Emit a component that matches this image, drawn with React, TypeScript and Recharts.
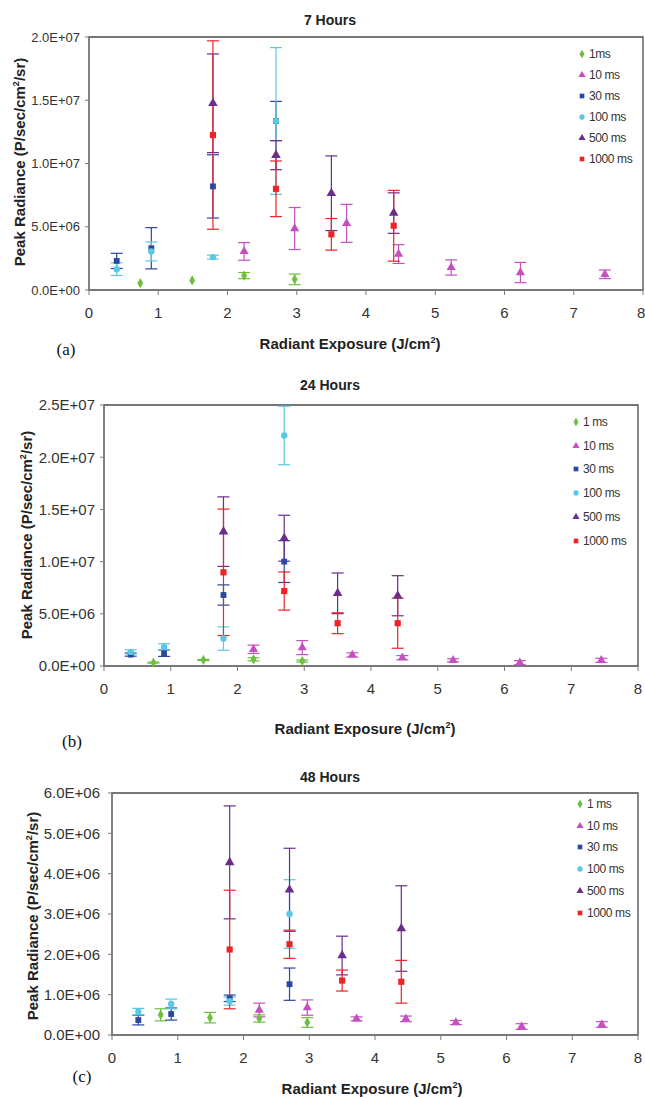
import React from 'react';
import { ScatterChart, Scatter, XAxis, YAxis, ErrorBar, ReferenceArea, Symbols } from 'recharts';

// exposure positions (J/cm²)
const exposure1ms = [0.74, 1.49, 2.24, 2.97];
const exposure10ms = [2.24, 2.97, 3.72, 4.47, 5.23, 6.23, 7.45];
const exposureShort = [0.4, 0.9, 1.79, 2.7]; // 30 ms, 100 ms
const exposureLong = [1.79, 2.7, 3.5, 4.4]; // 500 ms, 1000 ms

const xTicks = [0, 1, 2, 3, 4, 5, 6, 7, 8];

// 7 hours (values x1e6)
const h7_1ms = [0.54, 0.76, 1.14, 0.84];
const h7_1msErr = [0, 0, 0.24, 0.42];
const h7_10ms = [3.05, 4.86, 5.27, 2.84, 1.78, 1.38, 1.24];
const h7_10msErr = [0.7, 1.66, 1.5, 0.74, 0.6, 0.8, 0.34];
const h7_30ms = [2.3, 3.3, 8.19, 13.36];
const h7_30msErr = [0.6, 1.63, 2.5, 1.55];
const h7_100ms = [1.65, 3.05, 2.6, 13.36];
const h7_100msErr = [0.5, 0.75, 0.15, 5.8];
const h7_500ms = [14.76, 10.66, 7.65, 6.08];
const h7_500msErr = [3.9, 1.15, 2.95, 1.6];
const h7_1000ms = [12.25, 8.0, 4.4, 5.08];
const h7_1000msErr = [7.45, 2.2, 1.25, 2.8];

// 24 hours
const h24_1ms = [0.32, 0.58, 0.64, 0.48];
const h24_1msErr = [0.05, 0.05, 0.15, 0.1];
const h24_10ms = [1.6, 1.76, 1.06, 0.8, 0.54, 0.32, 0.54];
const h24_10msErr = [0.4, 0.67, 0.2, 0.2, 0.15, 0.2, 0.2];
const h24_30ms = [1.09, 1.22, 6.8, 10.0];
const h24_30msErr = [0.15, 0.3, 0.97, 2.0];
const h24_100ms = [1.35, 1.83, 2.63, 22.08];
const h24_100msErr = [0.2, 0.3, 1.12, 2.8];
const h24_500ms = [12.87, 12.24, 6.96, 6.73];
const h24_500msErr = [3.33, 2.2, 1.95, 1.92];
const h24_1000ms = [8.97, 7.18, 4.1, 4.1];
const h24_1000msErr = [6.06, 1.83, 1.0, 2.4];

// 48 hours
const h48_1ms = [0.5, 0.43, 0.41, 0.31];
const h48_1msErr = [0.15, 0.13, 0.09, 0.12];
const h48_10ms = [0.62, 0.68, 0.4, 0.4, 0.31, 0.21, 0.26];
const h48_10msErr = [0.17, 0.19, 0.05, 0.07, 0.05, 0.07, 0.07];
const h48_30ms = [0.37, 0.52, 0.91, 1.26];
const h48_30msErr = [0.12, 0.15, 0.08, 0.4];
const h48_100ms = [0.58, 0.77, 0.84, 3.0];
const h48_100msErr = [0.08, 0.12, 0.1, 0.85];
const h48_500ms = [4.28, 3.6, 1.97, 2.64];
const h48_500msErr = [1.4, 1.03, 0.48, 1.06];
const h48_1000ms = [2.12, 2.25, 1.35, 1.32];
const h48_1000msErr = [1.47, 0.35, 0.26, 0.53];

const seriesStyle = [
  { color: '#6cbf3f', shape: 'diamond', size: 30 },
  { color: '#c64fc0', shape: 'triangle', size: 36 },
  { color: '#2b479f', shape: 'square', size: 34 },
  { color: '#5bc7e6', shape: 'circle', size: 32 },
  { color: '#6b2d8c', shape: 'triangle', size: 40 },
  { color: '#ee2326', shape: 'square', size: 38 },
] as const;

const build = (xs: number[], ys: number[], es: number[]) =>
  xs.map((x, i) => ({ x, y: ys[i] * 1e6, err: es[i] * 1e6 }));

const sci = (v: number) => {
  if (v === 0) return '0.0E+00';
  const [m, e] = v.toExponential(1).split('e');
  const n = parseInt(e, 10);
  return `${m}E${n < 0 ? '-' : '+'}${String(Math.abs(n)).padStart(2, '0')}`;
};

const FONT = "'Liberation Sans', Arial, sans-serif";

type PanelProps = {
  top: number;
  height: number;
  margin: { top: number; right: number; left: number; bottom: number };
  yWidth: number;
  yMax: number;
  yTicks: number[];
  yTickMargin: number;
  yTickFont: number;
  series: { x: number; y: number; err: number }[][];
};

const marker = (i: number) => (props: any) => (
  <Symbols
    cx={props.cx}
    cy={props.cy}
    type={seriesStyle[i].shape}
    size={seriesStyle[i].size}
    fill={seriesStyle[i].color}
  />
);

function Panel({ top, height, margin, yWidth, yMax, yTicks, yTickMargin, yTickFont, series }: PanelProps) {
  return (
    <div style={{ position: 'absolute', left: 0, top }}>
      <ScatterChart width={645} height={height} margin={margin}>
        <XAxis
          type="number"
          dataKey="x"
          domain={[0, 8]}
          ticks={xTicks}
          height={30}
          tickSize={5}
          tickMargin={12}
          stroke="#7a7a7a"
          tick={{ fill: '#333', fontSize: 15, fontFamily: FONT }}
        />
        <YAxis
          type="number"
          dataKey="y"
          domain={[0, yMax]}
          ticks={yTicks}
          width={yWidth}
          tickSize={4}
          tickMargin={yTickMargin}
          tickFormatter={sci}
          stroke="#7a7a7a"
          tick={{ fill: '#333', fontSize: yTickFont, fontFamily: FONT }}
        />
        <ReferenceArea x1={0} x2={8} y1={0} y2={yMax} fill="none" stroke="#4a4a4a" strokeWidth={1.3} />
        {series.map((d, i) => (
          <Scatter
            key={i}
            data={d}
            fill={seriesStyle[i].color}
            shape={marker(i)}
            isAnimationActive={false}
          >
            <ErrorBar dataKey="err" direction="y" width={6} stroke={seriesStyle[i].color} strokeWidth={1.2} />
          </Scatter>
        ))}
      </ScatterChart>
    </div>
  );
}

function Legend({ left, top, gap, labels }: { left: number; top: number; gap: number; labels: string[] }) {
  return (
    <div style={{ position: 'absolute', left, top, fontFamily: FONT, fontSize: 12, color: '#333' }}>
      {labels.map((l, i) => (
        <div key={l} style={{ display: 'flex', alignItems: 'center', height: gap }}>
          <svg width={8} height={8} style={{ marginRight: 3 }}>
            <Symbols cx={4} cy={4} type={seriesStyle[i].shape} size={22} fill={seriesStyle[i].color} />
          </svg>
          <span style={{ letterSpacing: -0.4 }}>{l}</span>
        </div>
      ))}
    </div>
  );
}

const Abs = ({ x, y, children, style }: { x: number; y: number; children: React.ReactNode; style?: React.CSSProperties }) => (
  <div style={{ position: 'absolute', left: x, top: y, transform: 'translate(-50%, -50%)', whiteSpace: 'nowrap', ...style }}>
    {children}
  </div>
);

const bold: React.CSSProperties = { fontFamily: FONT, fontWeight: 'bold', color: '#222' };

const YLabel = ({ x, y }: { x: number; y: number }) => (
  <Abs x={x} y={y} style={{ ...bold, fontSize: 15, transform: 'translate(-50%, -50%) rotate(-90deg)' }}>
    Peak Radiance (P/sec/cm<sup style={{ fontSize: 9 }}>2</sup>/sr)
  </Abs>
);

const XLabel = ({ x, y }: { x: number; y: number }) => (
  <Abs x={x} y={y} style={{ ...bold, fontSize: 15 }}>
    Radiant Exposure (J/cm<sup style={{ fontSize: 9 }}>2</sup>)
  </Abs>
);

const Letter = ({ x, y, t }: { x: number; y: number; t: string }) => (
  <Abs x={x} y={y} style={{ fontFamily: "'Liberation Serif', 'Times New Roman', serif", fontSize: 17, color: '#111' }}>
    {t}
  </Abs>
);

const labelsA = ['1ms', '10 ms', '30 ms', '100 ms', '500 ms', '1000 ms'];
const labelsB = ['1 ms', '10 ms', '30 ms', '100 ms', '500 ms', '1000 ms'];

export default function App() {
  const p7 = [
    build(exposure1ms, h7_1ms, h7_1msErr),
    build(exposure10ms, h7_10ms, h7_10msErr),
    build(exposureShort, h7_30ms, h7_30msErr),
    build(exposureShort, h7_100ms, h7_100msErr),
    build(exposureLong, h7_500ms, h7_500msErr),
    build(exposureLong, h7_1000ms, h7_1000msErr),
  ];
  const p24 = [
    build(exposure1ms, h24_1ms, h24_1msErr),
    build(exposure10ms, h24_10ms, h24_10msErr),
    build(exposureShort, h24_30ms, h24_30msErr),
    build(exposureShort, h24_100ms, h24_100msErr),
    build(exposureLong, h24_500ms, h24_500msErr),
    build(exposureLong, h24_1000ms, h24_1000msErr),
  ];
  const p48 = [
    build(exposure1ms, h48_1ms, h48_1msErr),
    build(exposure10ms, h48_10ms, h48_10msErr),
    build(exposureShort, h48_30ms, h48_30msErr),
    build(exposureShort, h48_100ms, h48_100msErr),
    build(exposureLong, h48_500ms, h48_500msErr),
    build(exposureLong, h48_1000ms, h48_1000msErr),
  ];

  return (
    <div style={{ position: 'absolute', left: 0, top: 0, width: 645, height: 1098, background: '#fff', overflow: 'hidden' }}>
      {/* (a) 7 hours */}
      <Panel
        top={0}
        height={330}
        margin={{ top: 37, right: 2, left: 0, bottom: 10 }}
        yWidth={89}
        yMax={2e7}
        yTicks={[0, 5e6, 1e7, 1.5e7, 2e7]}
        yTickMargin={5}
        yTickFont={13}
        series={p7}
      />
      <Abs x={330} y={20} style={{ ...bold, fontSize: 14 }}>7 Hours</Abs>
      <YLabel x={19} y={162} />
      <XLabel x={350} y={343} />
      <Letter x={66} y={350} t="(a)" />
      <Legend left={578} top={43} gap={21} labels={labelsA} />

      {/* (b) 24 hours */}
      <Panel
        top={370}
        height={340}
        margin={{ top: 35, right: 7, left: 0, bottom: 14 }}
        yWidth={104}
        yMax={2.5e7}
        yTicks={[0, 5e6, 1e7, 1.5e7, 2e7, 2.5e7]}
        yTickMargin={5}
        yTickFont={15}
        series={p24}
      />
      <Abs x={330} y={385} style={{ ...bold, fontSize: 14 }}>24 Hours</Abs>
      <YLabel x={26} y={535} />
      <XLabel x={365} y={728} />
      <Letter x={72} y={742} t="(b)" />
      <Legend left={572} top={410} gap={23.8} labels={labelsB} />

      {/* (c) 48 hours */}
      <Panel
        top={760}
        height={320}
        margin={{ top: 33, right: 7, left: 0, bottom: 15 }}
        yWidth={112}
        yMax={6e6}
        yTicks={[0, 1e6, 2e6, 3e6, 4e6, 5e6, 6e6]}
        yTickMargin={8}
        yTickFont={15}
        series={p48}
      />
      <Abs x={330} y={777} style={{ ...bold, fontSize: 14 }}>48 Hours</Abs>
      <YLabel x={32} y={916} />
      <XLabel x={372} y={1088} />
      <Letter x={82} y={1077} t="(c)" />
      <Legend left={576} top={793} gap={21.8} labels={labelsB} />
    </div>
  );
}
